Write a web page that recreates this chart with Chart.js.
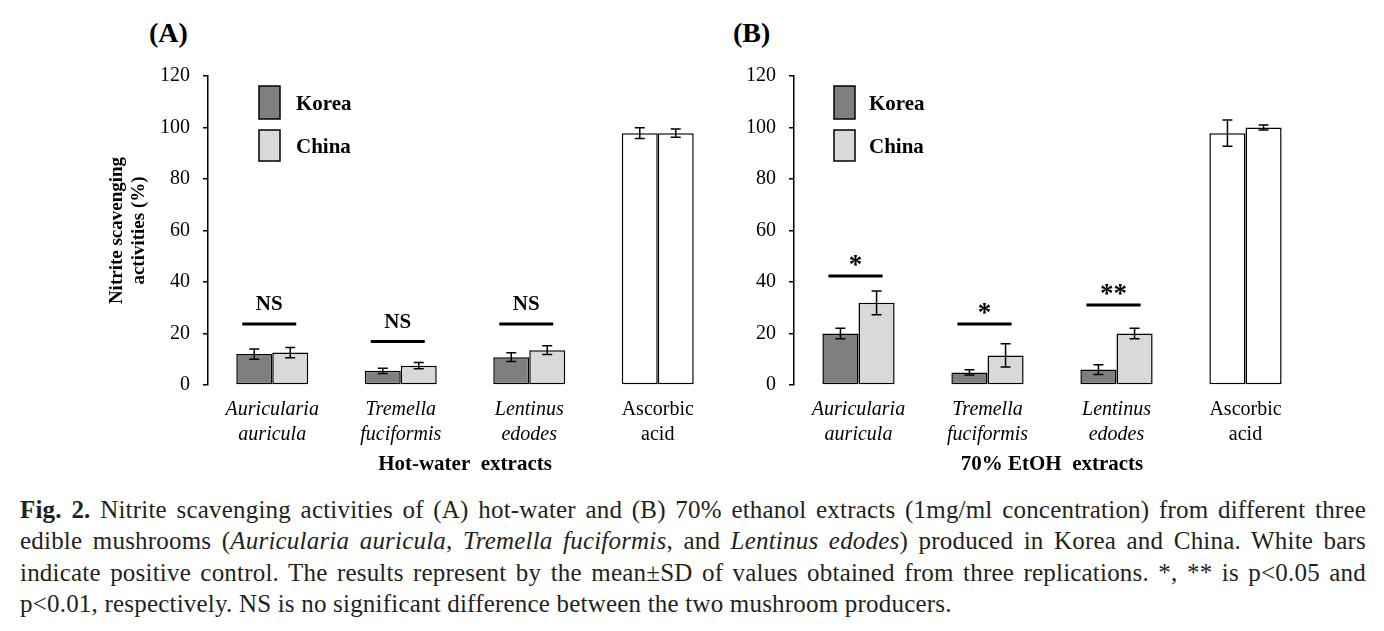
<!DOCTYPE html>
<html>
<head>
<meta charset="utf-8">
<title>Nitrite scavenging activities</title>
<script src="https://cdn.jsdelivr.net/npm/chart.js"></script>
<style>
  body { margin: 0; background: #fff; width: 1384px; height: 631px; overflow: hidden; position: relative;
         font-family: 'Liberation Serif', 'Times New Roman', serif; color: #000; }
  .panel { position: absolute; top: 0; }
  .tag { position: absolute; top: 17px; font-weight: bold; font-size: 28px; }
  #caption { position: absolute; left: 20px; top: 494px; width: 1346px; font-size: 25px; letter-spacing: 0.2px;
             line-height: 31.3px; color: #231f20; }
  #caption div { text-align: justify; text-align-last: justify; white-space: nowrap; }
  #caption div.last { text-align-last: left; }
</style>
</head>
<body>
<div class="tag" style="left:149px">(A)</div>
<div class="tag" style="left:733px">(B)</div>
<canvas id="hot" class="panel" width="740" height="482" style="left:0px"></canvas>
<canvas id="etoh" class="panel" width="740" height="482" style="left:586px"></canvas>

<div id="caption">
  <div><b>Fig. 2.</b> Nitrite scavenging activities of (A) hot-water and (B) 70% ethanol extracts (1mg/ml concentration) from different three</div>
  <div>edible mushrooms (<i>Auricularia auricula</i>, <i>Tremella fuciformis</i>, and <i>Lentinus edodes</i>) produced in Korea and China. White bars</div>
  <div>indicate positive control. The results represent by the mean±SD of values obtained from three replications. *, ** is p&lt;0.05 and</div>
  <div class="last">p&lt;0.01, respectively. NS is no significant difference between the two mushroom producers.</div>
</div>

<script>
// categories and values
const categories = [['Auricularia', 'auricula'], ['Tremella', 'fuciformis'], ['Lentinus', 'edodes'], ['Ascorbic', 'acid']];
const seriesNames = ['Korea', 'China'];

const koreaHot = [12.0, 5.5, 10.8, 97.8];
const koreaHotSD = [2.0, 1.0, 1.7, 2.1];
const chinaHot = [12.6, 7.5, 13.5, 97.8];
const chinaHotSD = [2.0, 1.2, 1.7, 1.6];

const koreaEtoh = [20.0, 4.9, 6.0, 97.8];
const koreaEtohSD = [2.0, 1.0, 1.9, 5.1];
const chinaEtoh = [31.9, 11.5, 20.0, 100.0];
const chinaEtohSD = [4.6, 4.5, 2.0, 1.0];

// significance marks and the height of the bar under them
const sigHot = ['NS', 'NS', 'NS'];
const sigHotLine = [23.7, 16.9, 23.7];
const sigEtoh = ['*', '*', '**'];
const sigEtohLine = [42.3, 23.7, 31.1];

const yMin = 0, yMax = 120, yStep = 20;

const SERIF = "'Liberation Serif', 'Times New Roman', serif";
const KOREA = '#7f7f7f', CHINA = '#d9d9d9', CONTROL = '#ffffff';

// error bars, significance lines and the legend box
const overlay = {
  id: 'overlay',
  afterDatasetsDraw(chart, args, opts) {
    const ctx = chart.ctx;
    const y = chart.scales.y;
    ctx.save();
    ctx.strokeStyle = '#000';
    ctx.lineWidth = 1.5;
    chart.data.datasets.forEach((ds, di) => {
      chart.getDatasetMeta(di).data.forEach((bar, i) => {
        const top = y.getPixelForValue(ds.data[i] + ds.sd[i]);
        const bot = y.getPixelForValue(ds.data[i] - ds.sd[i]);
        ctx.beginPath();
        ctx.moveTo(bar.x, top); ctx.lineTo(bar.x, bot);
        ctx.moveTo(bar.x - 5, top); ctx.lineTo(bar.x + 5, top);
        ctx.moveTo(bar.x - 5, bot); ctx.lineTo(bar.x + 5, bot);
        ctx.stroke();
      });
    });

    const k = chart.getDatasetMeta(0).data, c = chart.getDatasetMeta(1).data;
    ctx.fillStyle = '#000';
    ctx.textAlign = 'center';
    ctx.textBaseline = 'middle';
    opts.marks.forEach((txt, i) => {
      const l = k[i].x - k[i].width / 2, r = c[i].x + c[i].width / 2;
      const w = (r - l) * 0.75, cx = (l + r) / 2 - 3;
      const ly = y.getPixelForValue(opts.lines[i]);
      ctx.lineWidth = 3;
      ctx.beginPath();
      ctx.moveTo(cx - w / 2, ly); ctx.lineTo(cx + w / 2, ly);
      ctx.stroke();
      if (txt === 'NS') {
        ctx.font = 'bold 21px ' + SERIF;
        ctx.fillText(txt, cx, ly - 19);
      } else {
        ctx.font = 'bold 27px ' + SERIF;
        ctx.fillText(txt, cx, ly - 10);
      }
    });

    // legend
    const a = chart.chartArea;
    const lx = a.left + opts.legendX;
    const swatches = [[KOREA, a.top + 10, 33], [CHINA, a.top + 54, 31]];
    ctx.lineWidth = 1.5;
    ctx.textAlign = 'left';
    ctx.font = 'bold 21px ' + SERIF;
    swatches.forEach(([col, top, h], i) => {
      ctx.fillStyle = col;
      ctx.fillRect(lx, top, 21, h);
      ctx.strokeRect(lx, top, 21, h);
      ctx.fillStyle = '#000';
      ctx.fillText(chart.data.datasets[i].label, lx + opts.textGap, top + h / 2 + 2);
    });
    ctx.restore();
  }
};

function fillFor(color, values) {
  return values.map((v, i) => i === values.length - 1 ? CONTROL : color);
}

function makeChart(id, kor, korSD, chi, chiSD, opts) {
  return new Chart(document.getElementById(id), {
    type: 'bar',
    data: {
      labels: categories,
      datasets: [
        { label: seriesNames[0], data: kor, sd: korSD, backgroundColor: fillFor(KOREA, kor),
          borderColor: '#000', borderWidth: 1.5, borderSkipped: false },
        { label: seriesNames[1], data: chi, sd: chiSD, backgroundColor: fillFor(CHINA, chi),
          borderColor: '#000', borderWidth: 1.5, borderSkipped: false }
      ]
    },
    plugins: [overlay],
    options: {
      responsive: false,
      animation: false,
      events: [],
      layout: { padding: { left: 106, right: opts.padRight, top: 76, bottom: 5 } },
      datasets: { bar: { categoryPercentage: 0.56, barPercentage: 1 } },
      plugins: {
        legend: { display: false },
        tooltip: { enabled: false },
        overlay: { marks: opts.marks, lines: opts.lines, legendX: opts.legendX, textGap: opts.textGap }
      },
      scales: {
        x: {
          grid: { display: false },
          border: { display: false },
          ticks: {
            color: '#000',
            maxRotation: 0,
            padding: 4,
            font: c => ({ family: SERIF, size: 20, lineHeight: 1.25, style: c.index < 3 ? 'italic' : 'normal' })
          },
          title: { display: true, text: opts.xTitle, color: '#000', padding: 0,
                   font: { family: SERIF, size: 21, weight: 'bold', lineHeight: 1.2 } },
          afterFit: s => { s.height = 92; }
        },
        y: {
          min: yMin, max: yMax,
          ticks: { stepSize: yStep, color: '#000', padding: 13, font: { family: SERIF, size: 20 } },
          grid: { drawOnChartArea: false, color: '#000', lineWidth: 1.5, tickLength: 5 },
          border: { color: '#000', width: 1.5 },
          title: { display: opts.yTitle !== null, text: opts.yTitle || '', color: '#000', padding: 0,
                   font: { family: SERIF, size: 19, weight: 'bold', lineHeight: 1.15 } },
          afterFit: s => { s.width = 102; }
        }
      }
    }
  });
}

makeChart('hot', koreaHot, koreaHotSD, chinaHot, chinaHotSD, {
  marks: sigHot, lines: sigHotLine, padRight: 18, legendX: 51, textGap: 37,
  xTitle: 'Hot-water  extracts', yTitle: ['Nitrite scavenging', 'activities (%)']
});
makeChart('etoh', koreaEtoh, koreaEtohSD, chinaEtoh, chinaEtohSD, {
  marks: sigEtoh, lines: sigEtohLine, padRight: 16, legendX: 40, textGap: 35,
  xTitle: '70% EtOH  extracts', yTitle: null
});
</script>
</body>
</html>
